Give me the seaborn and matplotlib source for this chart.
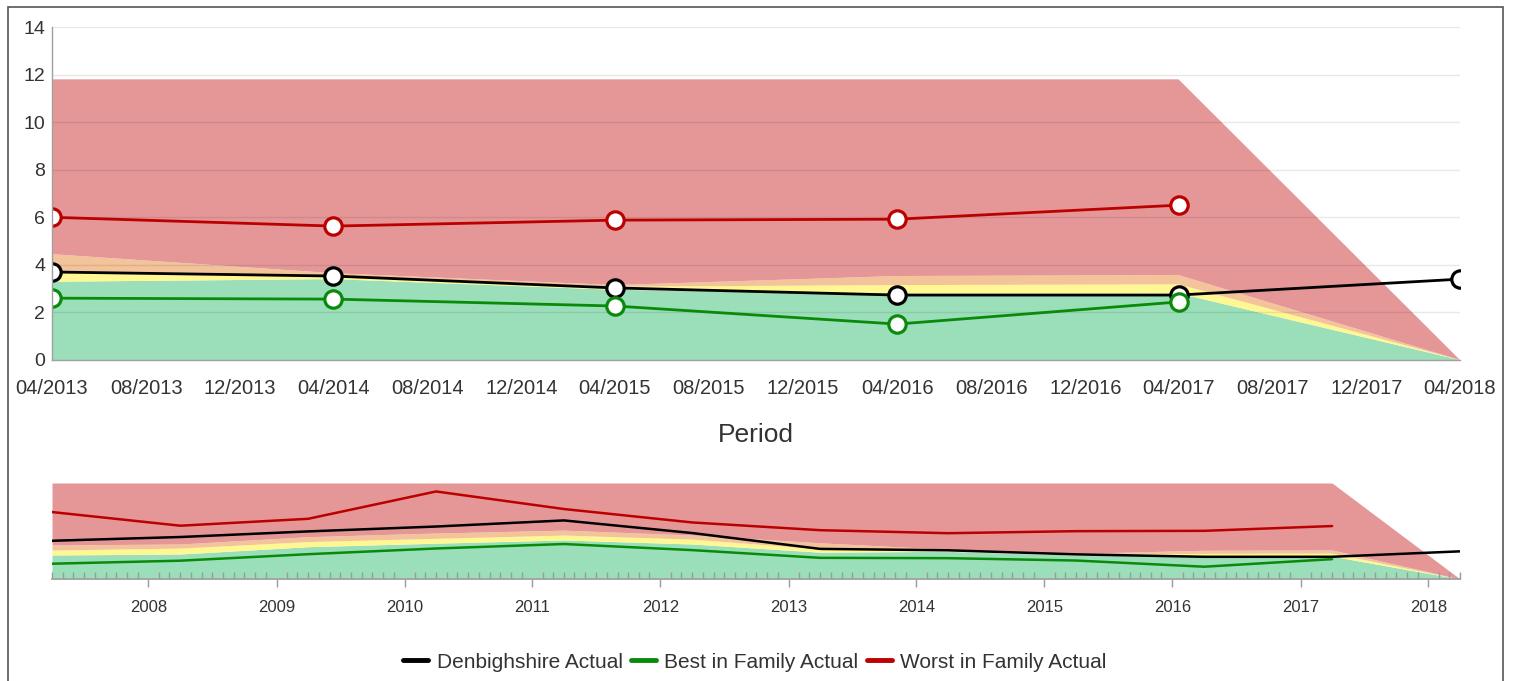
import numpy as np
import pandas as pd
import matplotlib
matplotlib.use("Agg")
import matplotlib.pyplot as plt
import matplotlib.dates as mdates
from matplotlib.lines import Line2D
from matplotlib.patches import Rectangle
import seaborn as sns

# ---------------- data ----------------
years = [2007, 2008, 2009, 2010, 2011, 2012, 2013, 2014, 2015, 2016, 2017, 2018]
denbighshire = [4.70, 5.16, 5.85, 6.45, 7.20, 5.65, 3.70, 3.53, 3.03, 2.73, 2.73, 3.40]
best_family = [1.88, 2.25, 3.05, 3.75, 4.30, 3.55, 2.60, 2.56, 2.27, 1.51, 2.44]
worst_family = [8.23, 6.55, 7.40, 10.76, 8.60, 6.95, 6.00, 5.63, 5.88, 5.92, 6.51]

# band upper bounds (stacked)
band_green = [2.95, 3.07, 3.97, 4.40, 4.80, 4.30, 3.29, 3.40, 2.95, 2.80, 2.80, 0.0]
band_yellow = [3.56, 3.80, 4.60, 5.00, 5.40, 4.90, 3.70, 3.53, 3.08, 3.15, 3.18, 0.0]
band_orange = [4.18, 4.30, 5.20, 5.65, 6.00, 5.40, 4.45, 3.65, 3.15, 3.53, 3.57, 0.0]
band_red = [11.8, 11.8, 11.8, 11.8, 11.8, 11.8, 11.8, 11.8, 11.8, 11.8, 11.8, 0.0]

series_names = ["Denbighshire Actual", "Best in Family Actual", "Worst in Family Actual"]
colors = {"Denbighshire Actual": "#000000",
          "Best in Family Actual": "#0A8A0A",
          "Worst in Family Actual": "#BB0000"}
band_colors = ["#9BDFBA", "#FFF791", "#F3C39A", "#E59798"]

dates = pd.to_datetime([f"{y}-04-01" for y in years])
df_d = pd.DataFrame({"date": dates, "value": denbighshire})
df_b = pd.DataFrame({"date": dates[:len(best_family)], "value": best_family})
df_w = pd.DataFrame({"date": dates[:len(worst_family)], "value": worst_family})
series = [(series_names[0], df_d), (series_names[1], df_b), (series_names[2], df_w)]

# ---------------- figure ----------------
sns.set_theme(style="white")
plt.rcParams["font.family"] = ["Liberation Sans", "DejaVu Sans"]
W, H = 1514, 681
fig = plt.figure(figsize=(W / 100, H / 100), dpi=100)

def fx(px):
    return px / W

def fy(py):
    return 1 - py / H

# outer border
fig.patches.append(Rectangle((fx(8), fy(690)), fx(1503) - fx(8), fy(7) - fy(690),
                             transform=fig.transFigure, fill=False,
                             edgecolor="#555555", lw=1.2))

ax = fig.add_axes([fx(52), fy(360), fx(1460) - fx(52), fy(27) - fy(360)])
nav = fig.add_axes([fx(52), fy(579), fx(1460) - fx(52), fy(483) - fy(579)])

def draw_bands(a):
    lower = np.zeros(len(dates))
    for top, c in zip([band_green, band_yellow, band_orange, band_red], band_colors):
        a.fill_between(dates, lower, top, color=c, lw=0, zorder=1)
        lower = np.array(top)

# ---- main chart ----
draw_bands(ax)
for yv in range(2, 16, 2):
    ax.axhline(yv, color="black", alpha=0.09, lw=1, zorder=1.5)

start_main = pd.Timestamp("2013-04-01")
for name, d in series:
    sub = d[d["date"] >= start_main]
    sns.lineplot(data=sub, x="date", y="value", ax=ax, color=colors[name],
                 linewidth=2.0, marker="o", markersize=12.5,
                 markerfacecolor="white", markeredgecolor=colors[name],
                 markeredgewidth=2.3, legend=False, zorder=3)

ax.set_xlim(pd.Timestamp("2013-04-01"), pd.Timestamp("2018-04-01"))
ax.set_ylim(0, 14)
ax.set_yticks(range(0, 15, 2))
ax.xaxis.set_major_locator(mdates.MonthLocator(bymonth=[4, 8, 12]))
ax.xaxis.set_major_formatter(mdates.DateFormatter("%m/%Y"))
ax.tick_params(axis="x", labelsize=14.5, colors="#333333", length=0, pad=14)
ax.tick_params(axis="y", labelsize=14, colors="#333333", length=0, pad=5)
ax.set_xlabel("Period", fontsize=19, color="#333333", labelpad=18)
ax.set_ylabel("")
for s in ["top", "right"]:
    ax.spines[s].set_visible(False)
for s in ["left", "bottom"]:
    ax.spines[s].set_color("#a0a0a0")
    ax.spines[s].set_linewidth(1)
    ax.spines[s].set_zorder(4)

# ---- navigator ----
draw_bands(nav)
for name, d in series:
    sns.lineplot(data=d, x="date", y="value", ax=nav, color=colors[name],
                 linewidth=1.8, legend=False, zorder=3)
nav.set_axisbelow(False)
nav.set_xlim(pd.Timestamp("2007-04-01"), pd.Timestamp("2018-04-01"))
nav.set_ylim(0, 11.8)
nav.set_yticks([])
nav.xaxis.set_major_locator(mdates.YearLocator())
nav.xaxis.set_major_formatter(mdates.DateFormatter("%Y"))
nav.xaxis.set_minor_locator(mdates.MonthLocator())
nav.tick_params(axis="x", which="major", labelsize=12, colors="#333333",
                length=6, direction="out", color="#999999", pad=9, bottom=True,
                width=1)
nav.tick_params(axis="x", which="minor", length=5, direction="in", color="#9a9a9a",
                bottom=True, width=1)
nav.set_xlabel("")
nav.set_ylabel("")
for s in ["top", "right", "left"]:
    nav.spines[s].set_visible(False)
nav.spines["bottom"].set_color("#a0a0a0")
nav.spines["bottom"].set_zorder(4)
for lbl in nav.get_xticklabels():
    lbl.set_color("#333333")

# ---- legend ----
handles = [Line2D([0], [0], color=colors[n], lw=3.5) for n in series_names]
fig.legend(handles, series_names, loc="center", bbox_to_anchor=(fx(755), fy(662)),
           ncol=3, frameon=False, fontsize=15, handlelength=1.2,
           handletextpad=0.4, columnspacing=0.4, labelcolor="#333333")

fig.savefig("out.png", dpi=100)
